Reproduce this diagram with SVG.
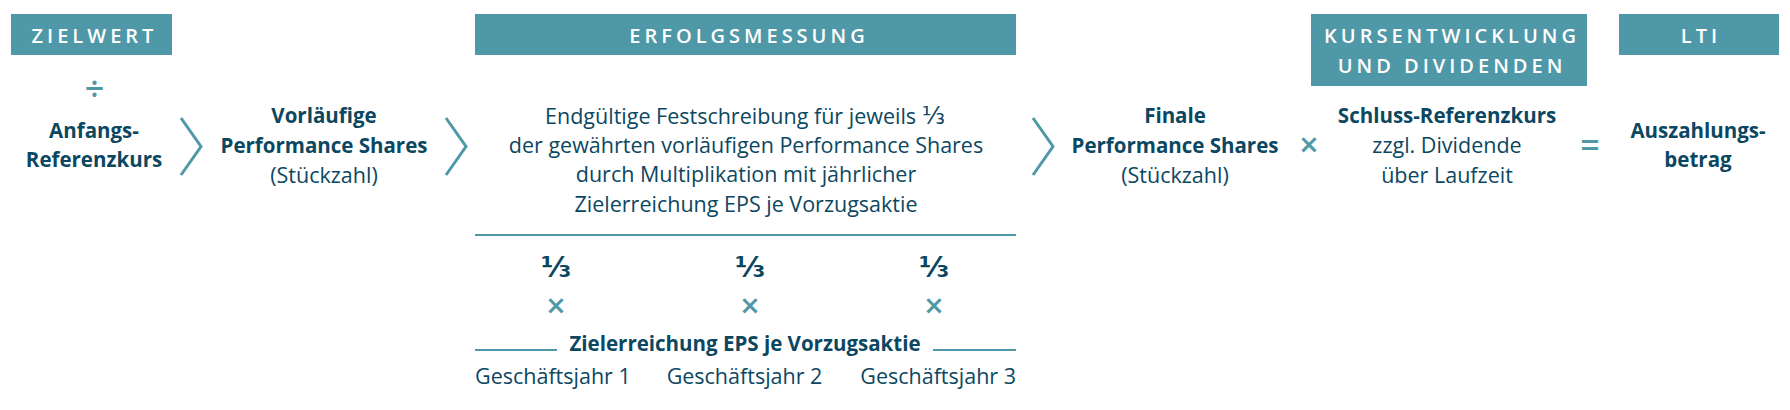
<svg xmlns="http://www.w3.org/2000/svg" width="1790" height="410" viewBox="0 0 1790 410">
<style>
.hdr{fill:#4f98a8}
.ht{font-family:"Open Sans","Noto Sans",sans-serif;font-weight:600;font-size:20px;fill:#ffffff;letter-spacing:4px;text-anchor:middle}
.b{font-family:"Open Sans","Noto Sans",sans-serif;font-weight:700;font-size:20.5px;fill:#0c4761;text-anchor:middle}
.r{font-family:"Open Sans","Noto Sans",sans-serif;font-weight:400;font-size:21.5px;fill:#0c4761;text-anchor:middle}
.op{font-family:"Open Sans","Noto Sans",sans-serif;font-weight:600;font-size:34px;fill:#4f98a8;text-anchor:middle}
.fr{font-family:"DejaVu Sans",sans-serif;font-weight:700;font-size:29px;fill:#0c4761;text-anchor:middle}
.frs{font-family:"DejaVu Sans",sans-serif;font-size:24px}
.chev{fill:none;stroke:#4f98a8;stroke-width:3}
.ln{stroke:#4f98a8;stroke-width:2}
</style>
<rect width="1790" height="410" fill="#ffffff"/>
<g id="hdr-zielwert"><rect class="hdr" x="11" y="14" width="161" height="41"/><text class="ht" x="94.5" y="43">ZIELWERT</text></g>
<g id="hdr-erfolgsmessung"><rect class="hdr" x="475" y="14" width="541" height="41"/><text class="ht" x="749" y="43">ERFOLGSMESSUNG</text></g>
<g id="hdr-kurs"><rect class="hdr" x="1311" y="14" width="276" height="72"/><text class="ht" x="1452" y="43">KURSENTWICKLUNG</text><text class="ht" x="1452" y="73">UND DIVIDENDEN</text></g>
<g id="hdr-lti"><rect class="hdr" x="1619" y="14" width="160" height="41"/><text class="ht" x="1701" y="43">LTI</text></g>

<g id="node-anfang"><text class="op" x="94.5" y="101">÷</text><text class="b" x="94" y="138">Anfangs-</text><text class="b" x="94" y="167">Referenzkurs</text></g>
<g id="node-vorlaeufig"><text class="b" x="324" y="123">Vorläufige</text><text class="b" x="324" y="153">Performance Shares</text><text class="r" x="324" y="183">(Stückzahl)</text></g>
<g id="node-festschreibung"><text class="r" x="745" y="124">Endgültige Festschreibung für jeweils <tspan class="frs">⅓</tspan></text><text class="r" x="746" y="153">der gewährten vorläufigen Performance Shares</text><text class="r" x="746" y="182">durch Multiplikation mit jährlicher</text><text class="r" x="746" y="212">Zielerreichung EPS je Vorzugsaktie</text></g>
<g id="node-finale"><text class="b" x="1175" y="123">Finale</text><text class="b" x="1175" y="153">Performance Shares</text><text class="r" x="1175" y="183">(Stückzahl)</text></g>
<g id="node-schluss"><text class="b" x="1447" y="123">Schluss-Referenzkurs</text><text class="r" x="1447" y="153">zzgl. Dividende</text><text class="r" x="1447" y="183">über Laufzeit</text></g>
<g id="node-auszahlung"><text class="b" x="1698" y="138">Auszahlungs-</text><text class="b" x="1698" y="167">betrag</text></g>
<g id="node-jahre">
<line class="ln" x1="475" y1="235" x2="1016" y2="235"/>
<text class="fr" x="556" y="277">⅓</text><text class="fr" x="750" y="277">⅓</text><text class="fr" x="934" y="277">⅓</text>
<text class="op" x="556" y="318">×</text><text class="op" x="750" y="318">×</text><text class="op" x="934" y="318">×</text>
<line class="ln" x1="475" y1="350" x2="557" y2="350"/><line class="ln" x1="933" y1="350" x2="1016" y2="350"/>
<text class="b" x="745" y="351">Zielerreichung EPS je Vorzugsaktie</text>
<text class="r" x="475" y="384" style="text-anchor:start">Geschäftsjahr 1</text><text class="r" x="744.5" y="384">Geschäftsjahr 2</text><text class="r" x="1016" y="384" style="text-anchor:end">Geschäftsjahr 3</text>
</g>
<g id="connectors">
<polyline class="chev" points="181,118 201,146.5 181,175"/>
<polyline class="chev" points="446,118 466,146.5 446,175"/>
<polyline class="chev" points="1033,118 1053,146.5 1033,175"/>
<text class="op" x="1309" y="157">×</text>
<text class="op" x="1590" y="157">=</text>
</g>
</svg>
